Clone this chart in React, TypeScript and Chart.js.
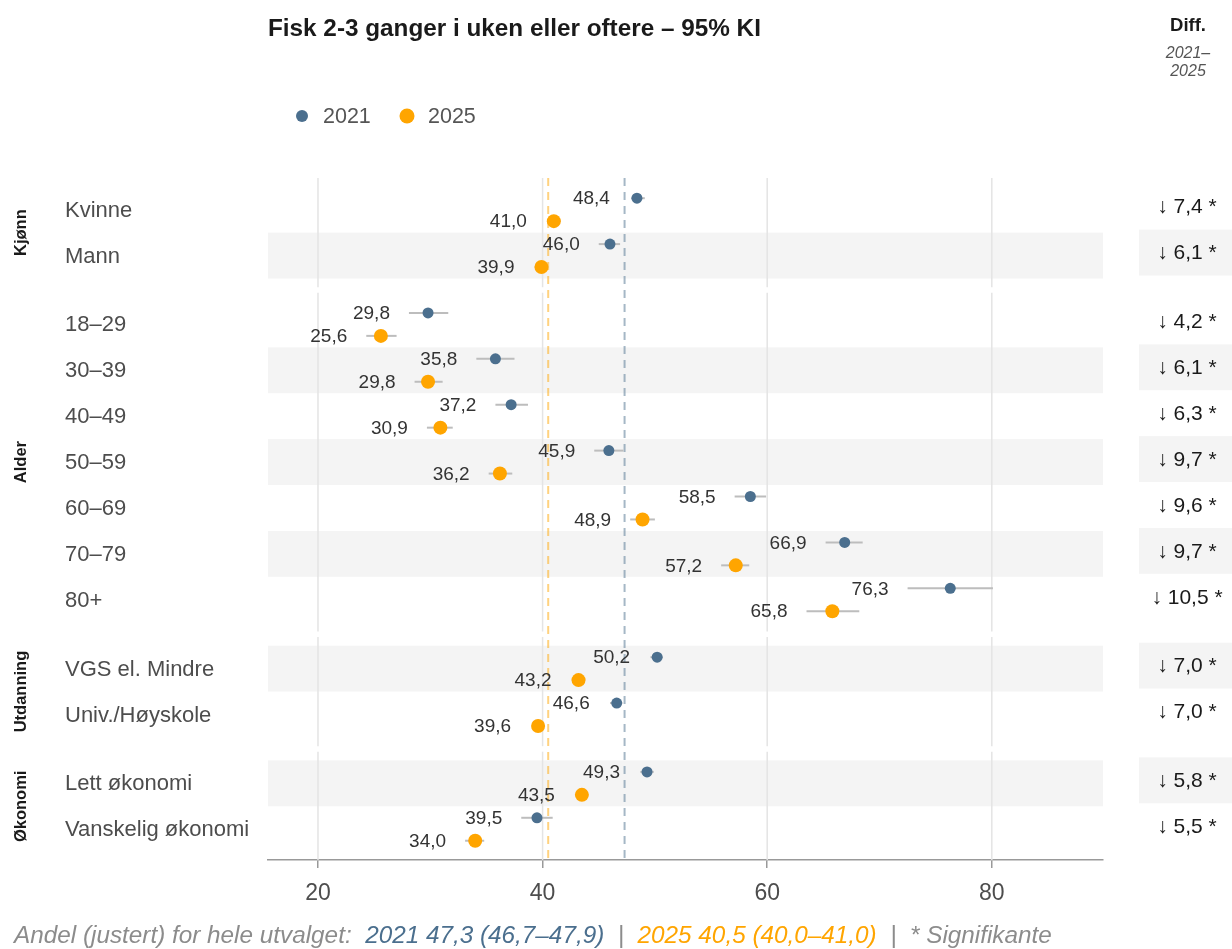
import React, { useEffect, useRef } from "react";
import { Chart, registerables } from "chart.js";

Chart.register(...registerables);

const FONT = '"Liberation Sans", Arial, Helvetica, sans-serif';

const chartTitle = "Fisk 2-3 ganger i uken eller oftere – 95% KI";
const seriesNames = ["2021", "2025"];
const groups = ["Kjønn", "Alder", "Utdanning", "Økonomi"];
const categories = [
  "Kvinne",
  "Mann",
  "18–29",
  "30–39",
  "40–49",
  "50–59",
  "60–69",
  "70–79",
  "80+",
  "VGS el. Mindre",
  "Univ./Høyskole",
  "Lett økonomi",
  "Vanskelig økonomi",
];
const categoryGroup = [0, 0, 1, 1, 1, 1, 1, 1, 1, 2, 2, 3, 3];
const values2021 = [48.4, 46.0, 29.8, 35.8, 37.2, 45.9, 58.5, 66.9, 76.3, 50.2, 46.6, 49.3, 39.5];
const low2021 = [47.9, 45.0, 28.1, 34.1, 35.8, 44.6, 57.1, 65.2, 72.5, 49.6, 46.0, 48.7, 38.1];
const high2021 = [49.1, 46.9, 31.6, 37.5, 38.7, 47.2, 59.9, 68.5, 80.1, 50.7, 47.1, 49.9, 40.9];
const values2025 = [41.0, 39.9, 25.6, 29.8, 30.9, 36.2, 48.9, 57.2, 65.8, 43.2, 39.6, 43.5, 34.0];
const low2025 = [40.4, 39.3, 24.3, 28.6, 29.7, 35.2, 47.8, 55.9, 63.5, 42.6, 39.1, 43.0, 33.1];
const high2025 = [41.6, 40.5, 27.0, 31.1, 32.0, 37.3, 50.0, 58.4, 68.2, 43.8, 40.1, 44.0, 34.8];
const diffs = [7.4, 6.1, 4.2, 6.1, 6.3, 9.7, 9.6, 9.7, 10.5, 7.0, 7.0, 5.8, 5.5];
const significant = [true, true, true, true, true, true, true, true, true, true, true, true, true];
const xTicks = [20, 40, 60, 80];
const overall2021 = [47.3, 46.7, 47.9];
const overall2025 = [40.5, 40.0, 41.0];

const BLUE = "#4b6f8e";
const ORANGE = "#ffa500";

const fmt = (v: number) => v.toFixed(1).replace(".", ",");

// row positions on the (hidden) category scale: half a row gap between groups
const rowPos = categories.map((_, i) => i + 0.5 * categoryGroup[i]);

const dotPlugin = {
  id: "dotPlugin",
  beforeDatasetsDraw(chart: any) {
    const { ctx, chartArea: a } = chart;
    const xs = chart.scales.x;
    const ys = chart.scales.y;
    ctx.save();
    // stripes
    categories.forEach((_, i) => {
      if (i % 2 === 1) {
        const t = ys.getPixelForValue(rowPos[i] - 0.5);
        const b = ys.getPixelForValue(rowPos[i] + 0.5);
        ctx.fillStyle = "#f4f4f4";
        ctx.fillRect(a.left, t, a.right - a.left, b - t);
        ctx.fillRect(1139, t - 3, chart.width - 1139, b - t);
      }
    });
    // gridlines per panel
    groups.forEach((_, g) => {
      const idx = categories.map((_, i) => i).filter((i) => categoryGroup[i] === g);
      const top = Math.max(ys.getPixelForValue(rowPos[idx[0]] - 0.69), a.top);
      const bot = Math.min(ys.getPixelForValue(rowPos[idx[idx.length - 1]] + 0.69), a.bottom);
      ctx.strokeStyle = "#e4e4e4";
      ctx.lineWidth = 1.5;
      xTicks.forEach((t) => {
        const px = xs.getPixelForValue(t);
        ctx.beginPath();
        ctx.moveTo(px, top);
        ctx.lineTo(px, bot);
        ctx.stroke();
      });
    });
    // reference lines
    ctx.setLineDash([8, 6]);
    ctx.lineWidth = 2;
    [
      [overall2021[0], "rgba(75,111,142,0.5)"],
      [overall2025[0], "rgba(255,165,0,0.5)"],
    ].forEach(([v, c]: any) => {
      const px = xs.getPixelForValue(v);
      ctx.strokeStyle = c;
      ctx.beginPath();
      ctx.moveTo(px, a.top);
      ctx.lineTo(px, a.bottom);
      ctx.stroke();
    });
    ctx.setLineDash([]);
    // error bars
    ctx.strokeStyle = "#bdbdbd";
    ctx.lineWidth = 2;
    categories.forEach((_, i) => {
      [
        [low2021[i], high2021[i], rowPos[i] - 0.25],
        [low2025[i], high2025[i], rowPos[i] + 0.25],
      ].forEach(([lo, hi, yy]) => {
        const py = ys.getPixelForValue(yy);
        ctx.beginPath();
        ctx.moveTo(xs.getPixelForValue(lo), py);
        ctx.lineTo(xs.getPixelForValue(hi), py);
        ctx.stroke();
      });
    });
    ctx.restore();
  },
  afterDatasetsDraw(chart: any) {
    const { ctx } = chart;
    const xs = chart.scales.x;
    const ys = chart.scales.y;
    ctx.save();
    ctx.font = `19px ${FONT}`;
    ctx.fillStyle = "#333333";
    ctx.textAlign = "right";
    ctx.textBaseline = "middle";
    categories.forEach((_, i) => {
      [
        [values2021[i], low2021[i], rowPos[i] - 0.25],
        [values2025[i], low2025[i], rowPos[i] + 0.25],
      ].forEach(([v, lo, yy]) => {
        const px = Math.min(xs.getPixelForValue(lo), xs.getPixelForValue(v) - 8) - 19;
        ctx.fillText(fmt(v), px, ys.getPixelForValue(yy) + 1);
      });
    });
    ctx.restore();
  },
  afterDraw(chart: any) {
    const { ctx } = chart;
    const ys = chart.scales.y;
    ctx.save();
    // title
    ctx.fillStyle = "#1a1a1a";
    ctx.font = `bold 24.3px ${FONT}`;
    ctx.textAlign = "left";
    ctx.textBaseline = "alphabetic";
    ctx.fillText(chartTitle, 268, 36);
    // legend
    ctx.textBaseline = "middle";
    ctx.font = `21.5px ${FONT}`;
    ctx.fillStyle = BLUE;
    ctx.beginPath();
    ctx.arc(302, 116, 6, 0, Math.PI * 2);
    ctx.fill();
    ctx.fillStyle = ORANGE;
    ctx.beginPath();
    ctx.arc(407, 116, 7.5, 0, Math.PI * 2);
    ctx.fill();
    ctx.fillStyle = "#555555";
    ctx.fillText(seriesNames[0], 323, 117);
    ctx.fillText(seriesNames[1], 428, 117);
    // row labels
    ctx.font = `22px ${FONT}`;
    ctx.fillStyle = "#4d4d4d";
    categories.forEach((c, i) => {
      ctx.fillText(c, 65, ys.getPixelForValue(rowPos[i]) + 1);
    });
    // group labels
    ctx.font = `bold 16.5px ${FONT}`;
    ctx.fillStyle = "#1a1a1a";
    ctx.textAlign = "center";
    groups.forEach((g, gi) => {
      const idx = categories.map((_, i) => i).filter((i) => categoryGroup[i] === gi);
      const cy = ys.getPixelForValue((rowPos[idx[0]] + rowPos[idx[idx.length - 1]]) / 2);
      ctx.save();
      ctx.translate(21, cy);
      ctx.rotate(-Math.PI / 2);
      ctx.fillText(g, 0, 0);
      ctx.restore();
    });
    // diff header
    ctx.fillStyle = "#1a1a1a";
    ctx.font = `bold 18.5px ${FONT}`;
    ctx.fillText("Diff.", 1188, 26);
    ctx.fillStyle = "#555555";
    ctx.font = `italic 16px ${FONT}`;
    ctx.fillText("2021–", 1188, 54);
    ctx.fillText("2025", 1188, 72);
    // diff values
    ctx.fillStyle = "#1a1a1a";
    ctx.font = `21px ${FONT}`;
    categories.forEach((_, i) => {
      const s = "↓ " + fmt(diffs[i]) + (significant[i] ? " *" : "");
      ctx.fillText(s, 1187, ys.getPixelForValue(rowPos[i]) - 2);
    });
    // footer
    ctx.textAlign = "left";
    ctx.font = `italic 24.3px ${FONT}`;
    const parts: [string, string][] = [
      ["Andel (justert) for hele utvalget:  ", "#8c8c8c"],
      [`2021 ${fmt(overall2021[0])} (${fmt(overall2021[1])}–${fmt(overall2021[2])})`, BLUE],
      ["  |  ", "#8c8c8c"],
      [`2025 ${fmt(overall2025[0])} (${fmt(overall2025[1])}–${fmt(overall2025[2])})`, ORANGE],
      ["  |  * Signifikante", "#8c8c8c"],
    ];
    let fx = 14;
    parts.forEach(([t, c]) => {
      ctx.fillStyle = c;
      ctx.fillText(t, fx, 936);
      fx += ctx.measureText(t).width;
    });
    ctx.restore();
  },
};

export default function App() {
  const ref = useRef<HTMLCanvasElement | null>(null);
  useEffect(() => {
    document.body.style.margin = "0";
    if (!ref.current) return;
    const chart = new Chart(ref.current, {
      type: "scatter",
      data: {
        datasets: [
          {
            label: seriesNames[0],
            data: values2021.map((v, i) => ({ x: v, y: rowPos[i] - 0.25 })),
            backgroundColor: BLUE,
            borderWidth: 0,
            pointRadius: 5.5,
          },
          {
            label: seriesNames[1],
            data: values2025.map((v, i) => ({ x: v, y: rowPos[i] + 0.25 })),
            backgroundColor: ORANGE,
            borderWidth: 0,
            pointRadius: 7,
          },
        ],
      },
      options: {
        animation: false,
        responsive: false,
        devicePixelRatio: 1,
        layout: { padding: { left: 268, right: 129, top: 178, bottom: 0 } },
        plugins: { legend: { display: false }, tooltip: { enabled: false }, title: { display: false } },
        scales: {
          x: {
            type: "linear",
            min: 15.55,
            max: 89.9,
            position: "bottom",
            afterBuildTicks: (s: any) => {
              s.ticks = xTicks.map((v) => ({ value: v }));
            },
            afterFit: (s: any) => {
              s.height = 89;
            },
            grid: { drawOnChartArea: false, drawTicks: true, tickLength: 8, color: "#999999", tickColor: "#999999", lineWidth: 1.5 },
            border: { display: true, color: "#999999", width: 1.5 },
            ticks: { font: { size: 23, family: FONT }, color: "#4d4d4d", padding: 12 },
          },
          y: { type: "linear", min: -0.69, max: 14.17, reverse: true, display: false },
        },
      },
      plugins: [dotPlugin],
    } as any);
    return () => chart.destroy();
  }, []);
  return <canvas ref={ref} width={1232} height={949} style={{ display: "block" }} />;
}
